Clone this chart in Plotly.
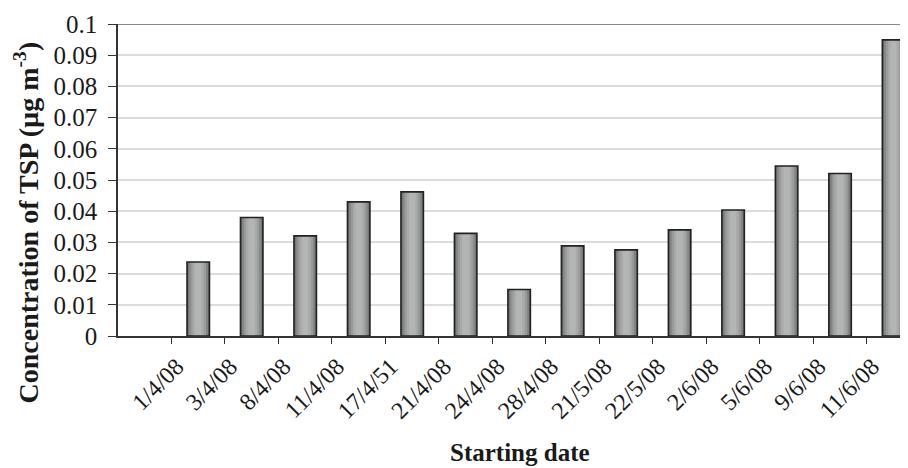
import plotly.graph_objects as go

# Data
dates = ["1/4/08", "3/4/08", "8/4/08", "11/4/08", "17/4/51", "21/4/08", "24/4/08",
         "28/4/08", "21/5/08", "22/5/08", "2/6/08", "5/6/08", "9/6/08", "11/6/08"]
tsp = [0.0237, 0.0380, 0.0321, 0.0430, 0.0462, 0.0329, 0.0149,
       0.0289, 0.0276, 0.0340, 0.0404, 0.0545, 0.0521, 0.0949]
y_ticks = [0, 0.01, 0.02, 0.03, 0.04, 0.05, 0.06, 0.07, 0.08, 0.09, 0.1]

# bars sit one slot to the right of the first (empty) slot, as in the reference
bar_pos = [i + 1 for i in range(len(tsp))]
tick_pos = [i + 0.5 for i in range(len(dates))]
label_pos = [i + 0.6 for i in range(len(dates))]

FONT = "Liberation Serif, Times New Roman, serif"
XR = [-0.5, 14.27]

fig = go.Figure()

# simulated cylinder-like gradient: stacked overlaid bars
layers = [(0.42, "#6d6f6f"), (0.36, "#848686"), (0.29, "#999b9b"),
          (0.21, "#a8aaaa"), (0.12, "#b3b5b5")]
for w, c in layers:
    fig.add_trace(go.Bar(x=bar_pos, y=tsp, width=w, marker=dict(color=c, line=dict(width=0)),
                         showlegend=False, hoverinfo="skip"))
# outline
fig.add_trace(go.Bar(x=bar_pos, y=tsp, width=0.42,
                     marker=dict(color="rgba(0,0,0,0)", line=dict(color="#222222", width=1.6)),
                     showlegend=False))
# invisible trace so that the label axis is drawn
fig.add_trace(go.Scatter(x=bar_pos, y=tsp, xaxis="x2", mode="markers",
                         marker=dict(opacity=0), showlegend=False, hoverinfo="skip"))

# page body has an 8px margin: figure is 900x460 so that it ends at the window edge
fig.update_layout(
    width=900, height=460,
    barmode="overlay",
    paper_bgcolor="white", plot_bgcolor="white",
    margin=dict(l=109.5, r=0, t=16, b=132.3),
    font=dict(family=FONT, size=24, color="#1a1a1a"),
    xaxis=dict(
        range=XR,
        tickmode="array", tickvals=tick_pos, showticklabels=False,
        ticks="outside", ticklen=6, tickwidth=1.2, tickcolor="#333333",
        showgrid=False, zeroline=False,
        showline=True, linecolor="#333333", linewidth=1.6,
    ),
    xaxis2=dict(
        range=XR, overlaying="x", side="bottom", anchor="y",
        tickmode="array", tickvals=label_pos, ticktext=dates,
        tickangle=-45, ticks="outside", ticklen=6, tickcolor="rgba(0,0,0,0)",
        showgrid=False, zeroline=False, showline=False,
        tickfont=dict(family=FONT, size=24, color="#1a1a1a"),
    ),
    yaxis=dict(
        range=[0, 0.1],
        tickmode="array", tickvals=y_ticks, ticktext=[f"{v:g}" for v in y_ticks],
        ticks="outside", ticklen=8, tickwidth=1.2, tickcolor="#333333",
        ticklabelstandoff=6,
        showgrid=True, gridcolor="#dcdcdc", gridwidth=1.5,
        zeroline=False,
        showline=True, linecolor="#333333", linewidth=1.6,
        tickfont=dict(family=FONT, size=25, color="#1a1a1a"),
    ),
    shapes=[dict(type="line", xref="paper", yref="y", x0=0, x1=1, y0=0.1, y1=0.1,
                 line=dict(color="#8a8a8a", width=2))],
    annotations=[
        dict(text="<b>Concentration of TSP (µg m<sup>-3</sup>)</b>", xref="paper", yref="paper",
             x=-0.116, y=0.365, xanchor="center", yanchor="middle", textangle=-90,
             showarrow=False, font=dict(family=FONT, size=28, color="#1a1a1a")),
        dict(text="<b>Starting date</b>", xref="paper", yref="paper",
             x=0.509, y=-0.373, xanchor="center", yanchor="middle",
             showarrow=False, font=dict(family=FONT, size=25, color="#1a1a1a")),
    ],
)

fig.write_html("out.html")
